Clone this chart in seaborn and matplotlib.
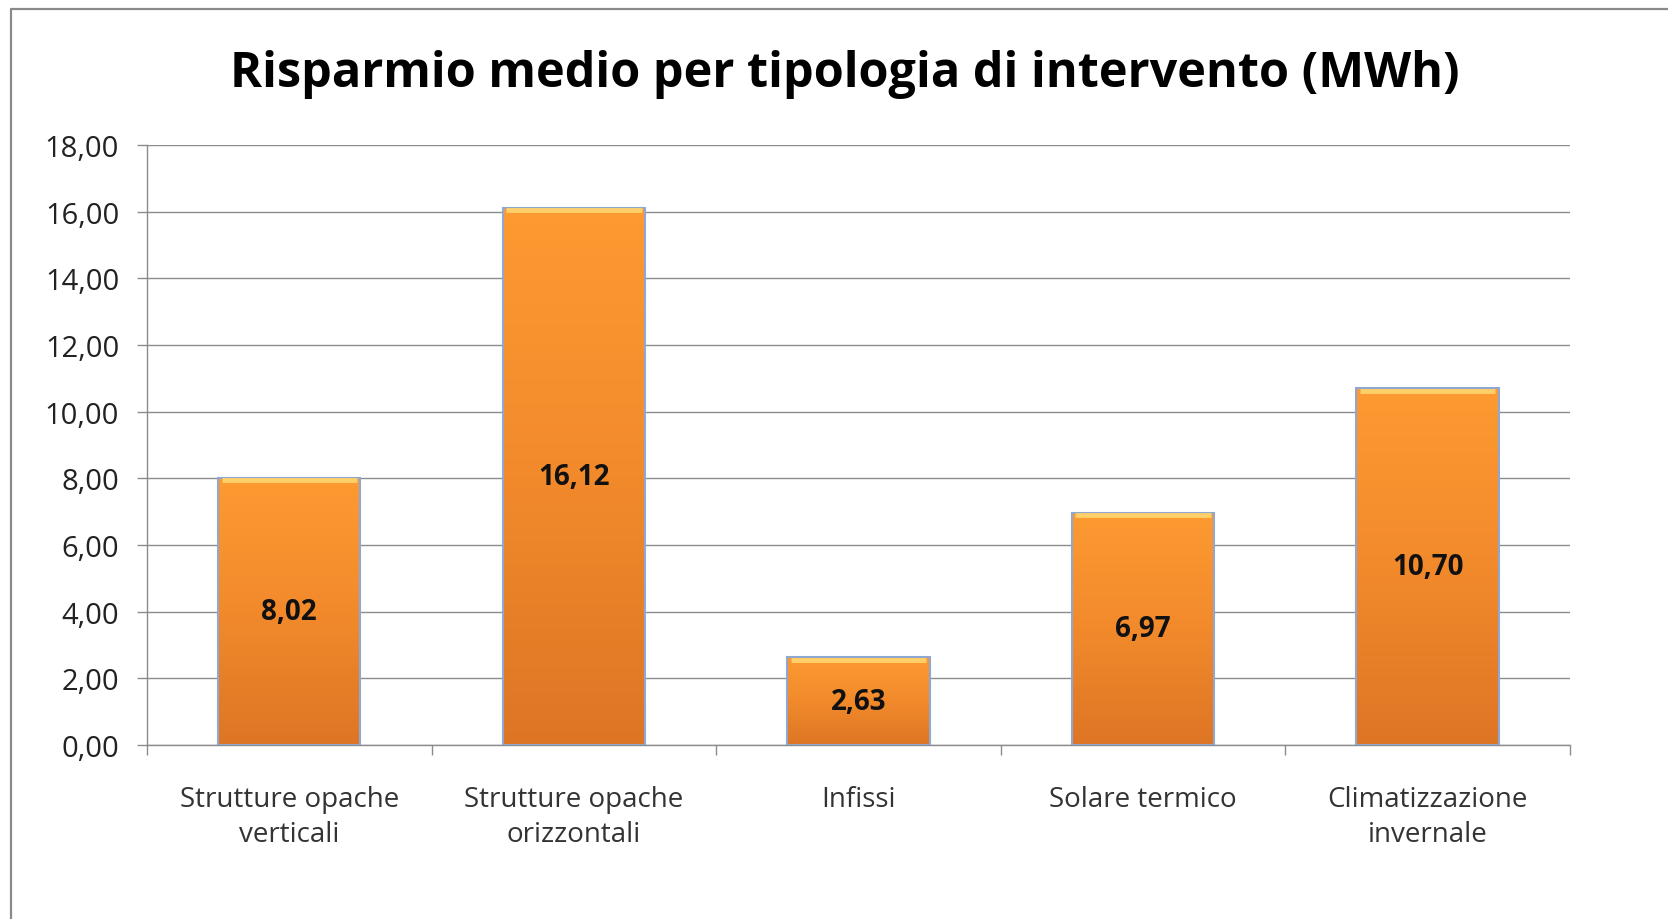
import matplotlib
matplotlib.use("Agg")
import matplotlib.pyplot as plt
import seaborn as sns
import numpy as np
import pandas as pd
from matplotlib.colors import LinearSegmentedColormap
from matplotlib.ticker import MultipleLocator, FuncFormatter
from matplotlib.lines import Line2D

# data
categories = [
    "Strutture opache\nverticali",
    "Strutture opache\norizzontali",
    "Infissi",
    "Solare termico",
    "Climatizzazione\ninvernale",
]
savings = [8.02, 16.12, 2.63, 6.97, 10.70]
title = "Risparmio medio per tipologia di intervento (MWh)"

df = pd.DataFrame({"intervento": categories, "mwh": savings})

sns.set_theme(style="white")
plt.rcParams["font.family"] = ["Open Sans", "DejaVu Sans"]

fig = plt.figure(figsize=(16.68, 9.2), dpi=100)
ax = fig.add_axes([0.0881, 0.1891, 0.8531, 0.6522])

# outer frame (only left and top visible in the crop)
fig.add_artist(Line2D([0.0066, 0.0066], [0.0, 0.9895], transform=fig.transFigure,
                      color="#8a8a8a", lw=1.6))
fig.add_artist(Line2D([0.0066, 1.0], [0.9895, 0.9895], transform=fig.transFigure,
                      color="#8a8a8a", lw=1.6))

sns.barplot(data=df, x="intervento", y="mwh", color="#f7902c", width=0.5,
            edgecolor="#8ea8d2", linewidth=1.5, ax=ax, zorder=3)

# vertical orange gradient inside each bar
grad_cmap = LinearSegmentedColormap.from_list("orng", ["#dd7525", "#f28a2c", "#fd9a31"])
grad = np.linspace(0, 1, 256).reshape(-1, 1)
for bar in ax.patches:
    x0, w, h = bar.get_x(), bar.get_width(), bar.get_height()
    im = ax.imshow(grad, extent=[x0, x0 + w, 0, h], aspect="auto", cmap=grad_cmap,
                   origin="lower", zorder=2.9, interpolation="bilinear")
    im.set_clip_path(bar)
    bar.set_facecolor("none")
    # light bevel along the top edge
    ax.plot([x0 + 0.012, x0 + w - 0.012], [h - 0.07, h - 0.07], color="#ffcf6a",
            lw=3.5, solid_capstyle="butt", zorder=3.1)
    ax.text(x0 + w / 2, h / 2, f"{h:.2f}".replace(".", ","), ha="center",
            va="center", fontsize=20, fontweight="bold", color="#111111", zorder=4)

ax.set_xlim(-0.5, len(categories) - 0.5)
ax.set_ylim(0, 18)
ax.yaxis.set_major_locator(MultipleLocator(2))
ax.yaxis.set_major_formatter(FuncFormatter(lambda v, p: f"{v:.2f}".replace(".", ",")))
ax.grid(axis="y", color="#8c8c8c", lw=1.0, zorder=0)
ax.set_axisbelow(True)

for side in ["top", "right"]:
    ax.spines[side].set_visible(False)
for side in ["left", "bottom"]:
    ax.spines[side].set_color("#8c8c8c")
    ax.spines[side].set_linewidth(1.0)

ax.set_xlabel("")
ax.set_ylabel("")
ax.tick_params(axis="y", which="major", direction="out", length=7, width=1,
               color="#8c8c8c", labelsize=21, labelcolor="#222222", pad=13, left=True)
ax.tick_params(axis="x", which="major", length=0, labelsize=20, labelcolor="#333333", pad=29)
ax.set_xticks(range(len(categories)))
ax.set_xticklabels(categories, linespacing=1.3)
ax.set_xticks(np.arange(-0.5, len(categories)), minor=True)
ax.tick_params(axis="x", which="minor", direction="out", length=7, width=1,
               color="#8c8c8c", bottom=True)

fig.text(0.5066, 0.9185, title, ha="center", va="center", fontsize=35,
         fontweight="bold", color="#000000")

fig.savefig("out.png", dpi=100, facecolor="white")
